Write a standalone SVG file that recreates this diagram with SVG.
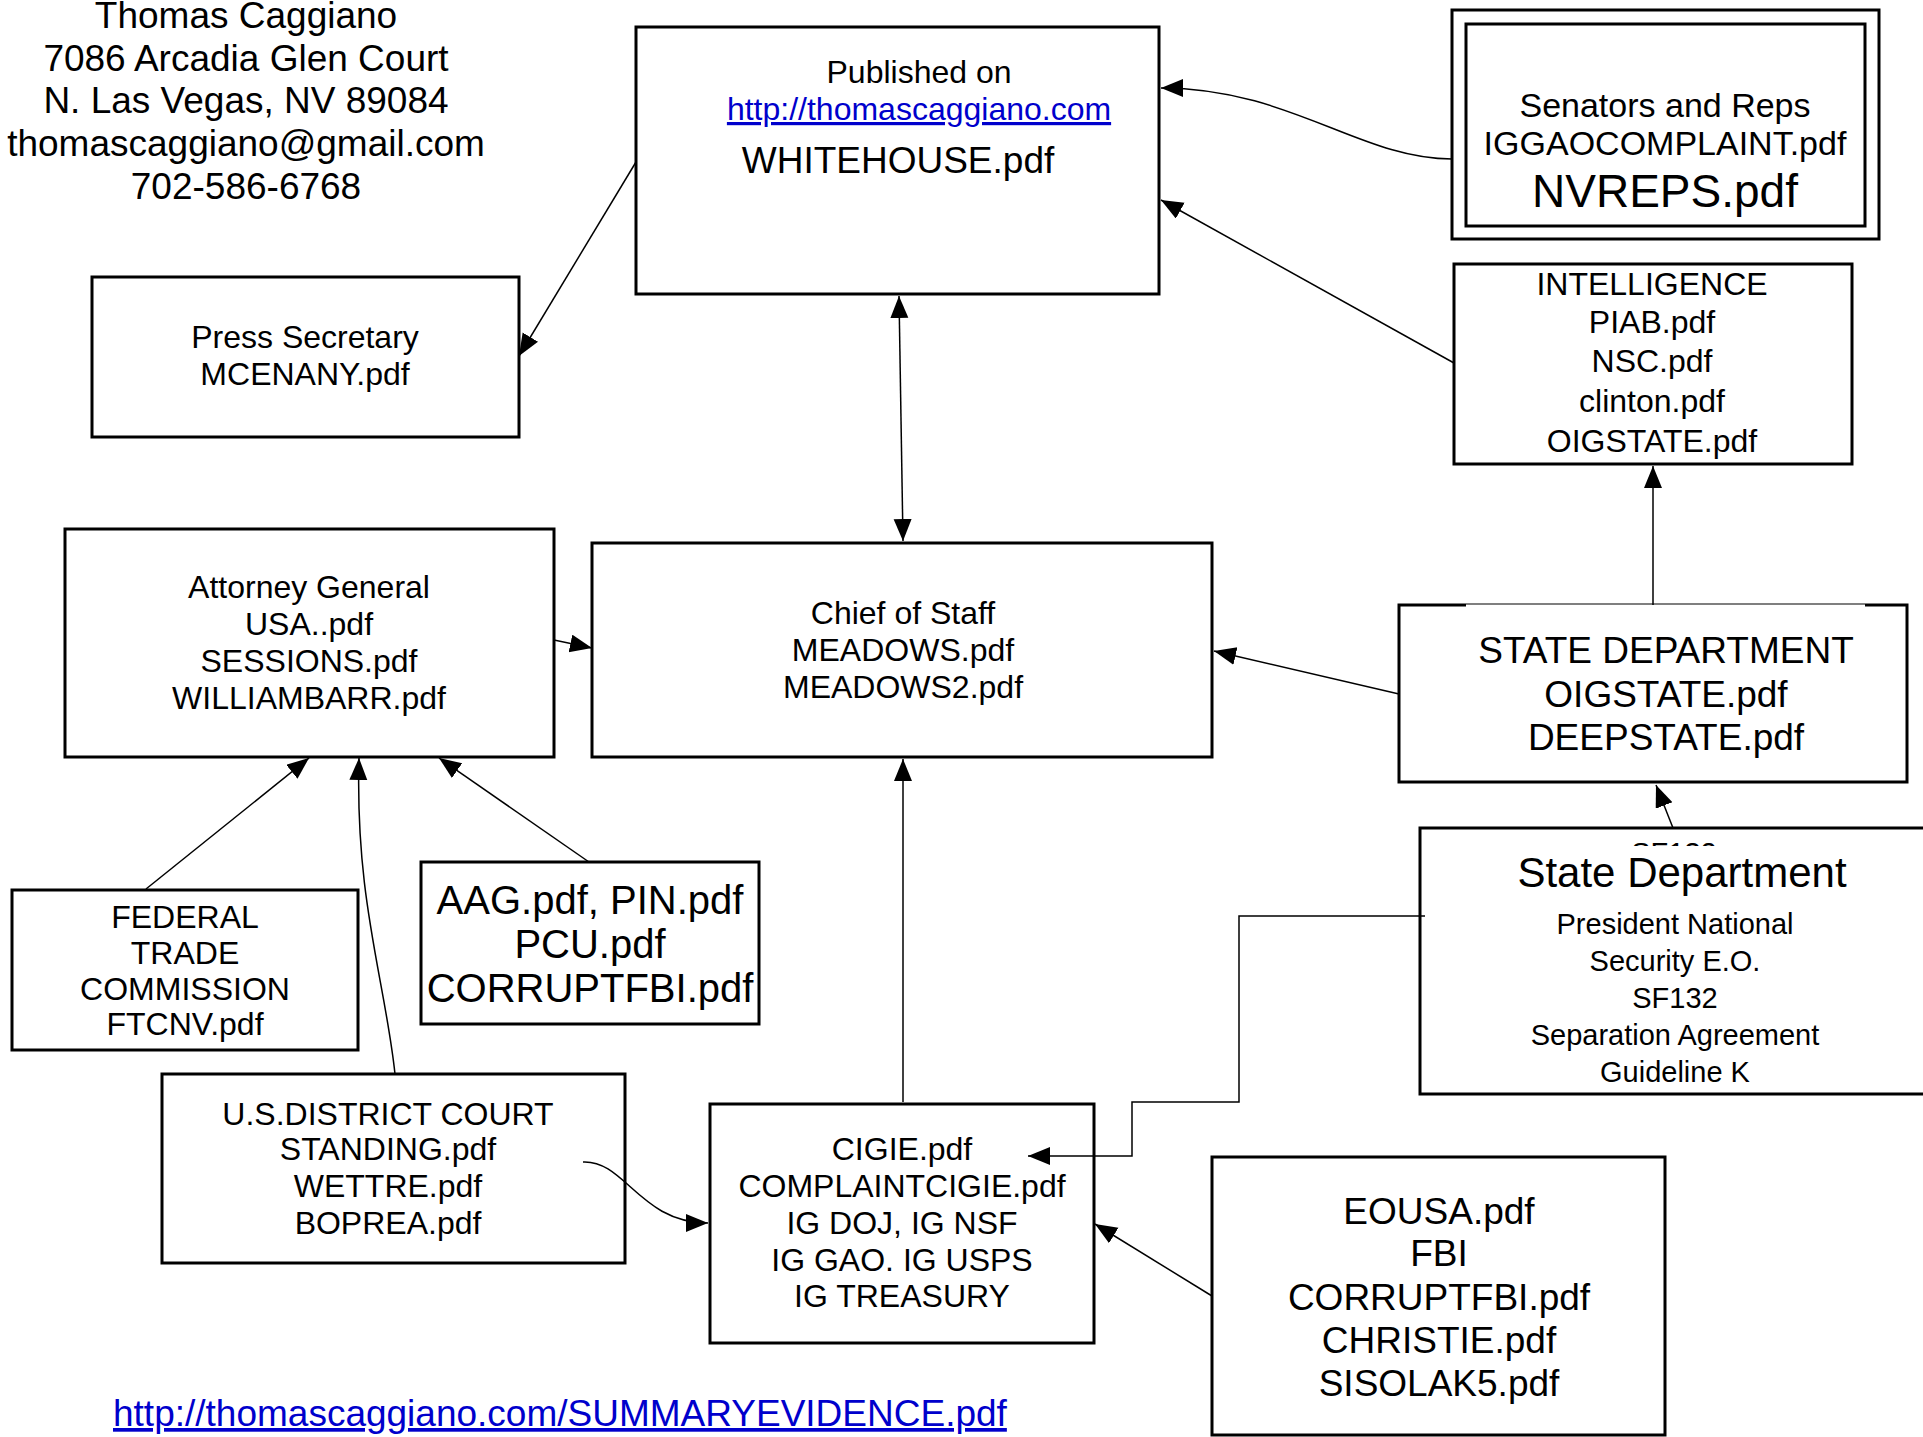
<svg xmlns="http://www.w3.org/2000/svg" width="1923" height="1437" viewBox="0 0 1923 1437">
<style>
  text { font-family: "Liberation Sans", Arial, sans-serif; fill: #000; text-anchor: middle; }
  .box { fill: #fff; stroke: #000; stroke-width: 3; }
  .conn { fill: none; stroke: #000; stroke-width: 1.5; }
  .f32 { font-size: 32px; }
  .f37 { font-size: 37px; }
  .link { fill: #0000cc; text-decoration: underline; }
</style>
<defs>
  <marker id="arr" markerUnits="userSpaceOnUse" markerWidth="24" markerHeight="20" refX="22" refY="9" orient="auto-start-reverse" viewBox="0 0 24 20">
    <path d="M0,0 L22,9 L0,18 z" fill="#000"/>
  </marker>
  <clipPath id="clipSF"><rect x="1550" y="830" width="250" height="16"/></clipPath>
</defs>

<rect width="1923" height="1437" fill="#fff"/>

<g id="header">
  <text class="f37" x="246" y="28">Thomas Caggiano</text>
  <text class="f37" x="246" y="71">7086 Arcadia Glen Court</text>
  <text class="f37" x="246" y="113">N. Las Vegas, NV 89084</text>
  <text class="f37" x="246" y="156">thomascaggiano@gmail.com</text>
  <text class="f37" x="246" y="199">702-586-6768</text>
</g>

<g id="whitehouse">
  <rect class="box" x="636" y="27" width="523" height="267"/>
  <text class="f32" x="919" y="83">Published on</text>
  <text class="f32 link" x="919" y="120">http://thomascaggiano.com</text>
  <text class="f37" x="898" y="173">WHITEHOUSE.pdf</text>
</g>

<g id="senators">
  <rect class="box" x="1452" y="10" width="427" height="229"/>
  <rect class="box" x="1466" y="24" width="399" height="202"/>
  <text x="1665" y="117" style="font-size:34px">Senators and Reps</text>
  <text x="1665" y="155" style="font-size:34px">IGGAOCOMPLAINT.pdf</text>
  <text x="1665" y="207" style="font-size:46px">NVREPS.pdf</text>
</g>

<g id="press">
  <rect class="box" x="92" y="277" width="427" height="160"/>
  <text class="f32" x="305" y="348">Press Secretary</text>
  <text class="f32" x="305" y="385">MCENANY.pdf</text>
</g>

<g id="intelligence">
  <rect class="box" x="1454" y="264" width="398" height="200"/>
  <text class="f32" x="1652" y="295">INTELLIGENCE</text>
  <text class="f32" x="1652" y="333">PIAB.pdf</text>
  <text class="f32" x="1652" y="372">NSC.pdf</text>
  <text class="f32" x="1652" y="412">clinton.pdf</text>
  <text class="f32" x="1652" y="452">OIGSTATE.pdf</text>
</g>

<g id="attorney">
  <rect class="box" x="65" y="529" width="489" height="228"/>
  <text class="f32" x="309" y="598">Attorney General</text>
  <text class="f32" x="309" y="635">USA..pdf</text>
  <text class="f32" x="309" y="672">SESSIONS.pdf</text>
  <text class="f32" x="309" y="709">WILLIAMBARR.pdf</text>
</g>

<g id="chief">
  <rect class="box" x="592" y="543" width="620" height="214"/>
  <text class="f32" x="903" y="624">Chief of Staff</text>
  <text class="f32" x="903" y="661">MEADOWS.pdf</text>
  <text class="f32" x="903" y="698">MEADOWS2.pdf</text>
</g>

<g id="statedept">
  <rect class="box" x="1399" y="605" width="508" height="177"/>
  <line x1="1466" y1="605" x2="1865" y2="605" stroke="#fff" stroke-width="4"/>
  <line x1="1466" y1="604" x2="1865" y2="604" stroke="#000" stroke-width="1.2"/>
  <text class="f37" x="1666" y="663">STATE DEPARTMENT</text>
  <text class="f37" x="1666" y="707">OIGSTATE.pdf</text>
  <text class="f37" x="1666" y="750">DEEPSTATE.pdf</text>
</g>

<g id="ftc">
  <rect class="box" x="12" y="890" width="346" height="160"/>
  <text class="f32" x="185" y="928">FEDERAL</text>
  <text class="f32" x="185" y="964">TRADE</text>
  <text class="f32" x="185" y="1000">COMMISSION</text>
  <text class="f32" x="185" y="1035">FTCNV.pdf</text>
</g>

<g id="aag">
  <rect class="box" x="421" y="862" width="338" height="162"/>
  <text x="590" y="914" style="font-size:40px">AAG.pdf, PIN.pdf</text>
  <text x="590" y="958" style="font-size:40px">PCU.pdf</text>
  <text x="590" y="1002" style="font-size:40px">CORRUPTFBI.pdf</text>
</g>

<g id="statedept2">
  <rect class="box" x="1420" y="828" width="520" height="266"/>
  <text x="1674" y="863" clip-path="url(#clipSF)" style="font-size:29px">SF132</text>
  <text x="1682" y="887" style="font-size:42px">State Department</text>
  <text x="1675" y="934" style="font-size:29px">President National</text>
  <text x="1675" y="971" style="font-size:29px">Security E.O.</text>
  <text x="1675" y="1008" style="font-size:29px">SF132</text>
  <text x="1675" y="1045" style="font-size:29px">Separation Agreement</text>
  <text x="1675" y="1082" style="font-size:29px">Guideline K</text>
</g>

<g id="court">
  <rect class="box" x="162" y="1074" width="463" height="189"/>
  <text class="f32" x="388" y="1125">U.S.DISTRICT COURT</text>
  <text class="f32" x="388" y="1160">STANDING.pdf</text>
  <text class="f32" x="388" y="1197">WETTRE.pdf</text>
  <text class="f32" x="388" y="1234">BOPREA.pdf</text>
</g>

<g id="cigie">
  <rect class="box" x="710" y="1104" width="384" height="239"/>
  <text class="f32" x="902" y="1160">CIGIE.pdf</text>
  <text class="f32" x="902" y="1197">COMPLAINTCIGIE.pdf</text>
  <text class="f32" x="902" y="1234">IG DOJ, IG NSF</text>
  <text class="f32" x="902" y="1271">IG GAO. IG USPS</text>
  <text class="f32" x="902" y="1307">IG TREASURY</text>
</g>

<g id="eousa">
  <rect class="box" x="1212" y="1157" width="453" height="278"/>
  <text class="f37" x="1439" y="1224">EOUSA.pdf</text>
  <text class="f37" x="1439" y="1266">FBI</text>
  <text class="f37" x="1439" y="1310">CORRUPTFBI.pdf</text>
  <text class="f37" x="1439" y="1353">CHRISTIE.pdf</text>
  <text class="f37" x="1439" y="1396">SISOLAK5.pdf</text>
</g>

<g id="footer">
  <text class="f37 link" x="113" y="1426" style="text-anchor:start">http://thomascaggiano.com/SUMMARYEVIDENCE.pdf</text>
</g>

<g id="connectors">
  <path class="conn" d="M636,162 L519,356" marker-end="url(#arr)"/>
  <path class="conn" d="M1452,159 C1360,159 1290,88 1161,88" marker-end="url(#arr)"/>
  <path class="conn" d="M1454,363 L1161,200" marker-end="url(#arr)"/>
  <path class="conn" d="M899,296 L903,541" marker-start="url(#arr)" marker-end="url(#arr)"/>
  <path class="conn" d="M554,640 L592,648" marker-end="url(#arr)"/>
  <path class="conn" d="M1399,694 L1214,651" marker-end="url(#arr)"/>
  <path class="conn" d="M1653,605 L1653,466" marker-end="url(#arr)"/>
  <path class="conn" d="M1673,828 L1656,785" marker-end="url(#arr)"/>
  <path class="conn" d="M146,889 L309,758" marker-end="url(#arr)"/>
  <path class="conn" d="M395,1074 C385,980 355,900 359,758" marker-end="url(#arr)"/>
  <path class="conn" d="M589,862 L439,758" marker-end="url(#arr)"/>
  <path class="conn" d="M903,1102 L903,759" marker-end="url(#arr)"/>
  <path class="conn" d="M583,1162 C625,1160 640,1223 708,1223" marker-end="url(#arr)"/>
  <path class="conn" d="M1212,1296 L1095,1224" marker-end="url(#arr)"/>
  <path class="conn" d="M1425,916 L1239,916 L1239,1102 L1132,1102 L1132,1156 L1028,1156" marker-end="url(#arr)"/>
</g>
</svg>
